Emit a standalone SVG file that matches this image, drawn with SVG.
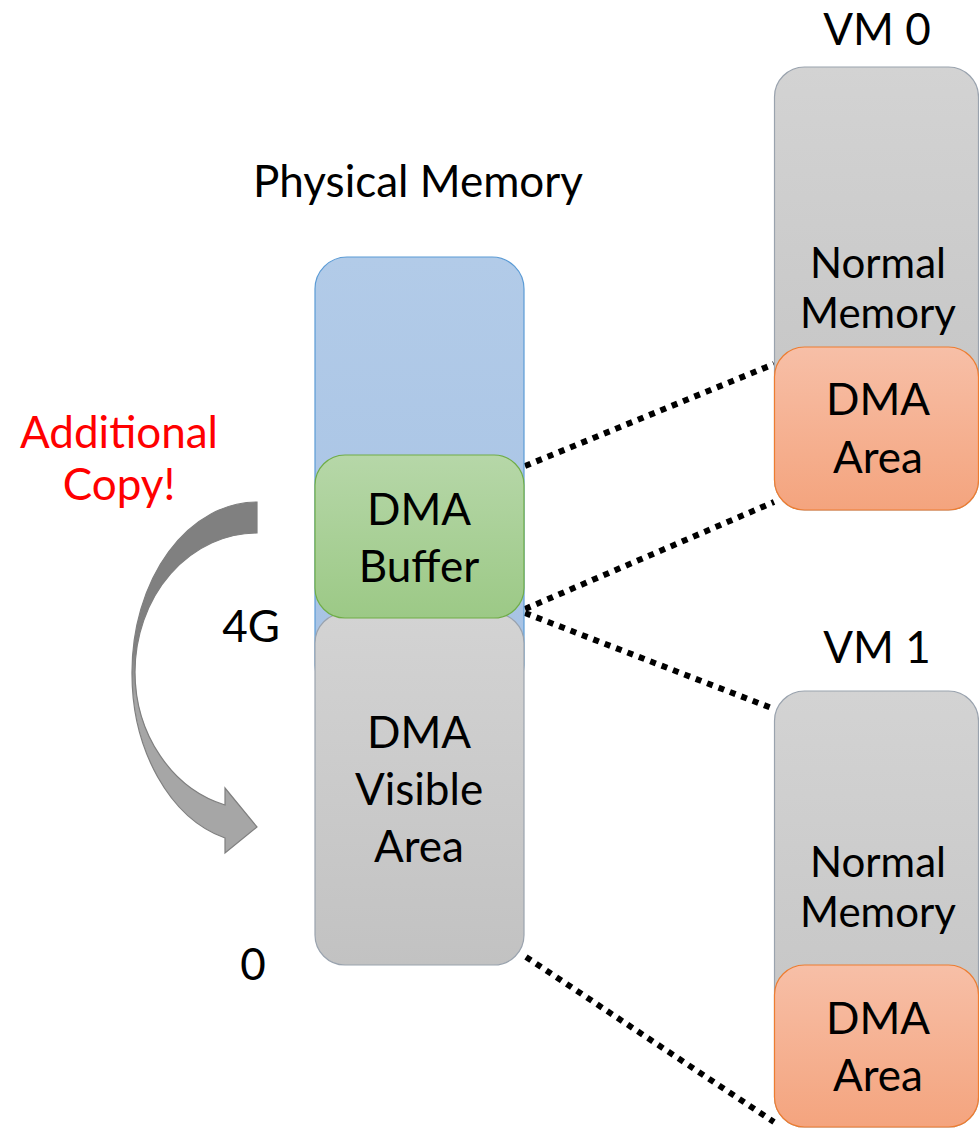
<svg xmlns="http://www.w3.org/2000/svg" width="979" height="1130" viewBox="0 0 979 1130">
  <defs>
    <linearGradient id="gBlue" x1="0" y1="0" x2="0" y2="1">
      <stop offset="0" stop-color="#B2CBE8"/>
      <stop offset="1" stop-color="#A6C2E4"/>
    </linearGradient>
    <linearGradient id="gGreen" x1="0" y1="0" x2="0" y2="1">
      <stop offset="0" stop-color="#B6D7A8"/>
      <stop offset="1" stop-color="#9CC986"/>
    </linearGradient>
    <linearGradient id="gGray" x1="0" y1="0" x2="0" y2="1">
      <stop offset="0" stop-color="#D3D3D3"/>
      <stop offset="1" stop-color="#C2C2C2"/>
    </linearGradient>
    <linearGradient id="gOrange" x1="0" y1="0" x2="0" y2="1">
      <stop offset="0" stop-color="#F7BFA7"/>
      <stop offset="1" stop-color="#F4A47E"/>
    </linearGradient>
    <linearGradient id="gArrow" x1="0" y1="0" x2="0" y2="1">
      <stop offset="0.42" stop-color="#808080"/>
      <stop offset="0.56" stop-color="#A6A6A6"/>
    </linearGradient>
    <style>
      text { font-family: Lato, "Liberation Sans", sans-serif; font-size: 44px; fill: #000; text-anchor: middle; }
      .small { font-size: 42px; }
      .red { fill: #FF0000; }
      .blue { fill: url(#gBlue); stroke: #5B9BD5; stroke-width: 1.2; }
      .green { fill: url(#gGreen); stroke: #70AD47; stroke-width: 1.2; }
      .gray { fill: url(#gGray); stroke: #9AA3AE; stroke-width: 1.2; }
      .orange { fill: url(#gOrange); stroke: #ED7D31; stroke-width: 1.2; }
      .link { fill: none; stroke: #000; stroke-width: 6; stroke-dasharray: 6 6.2; }
    </style>
  </defs>

  <rect width="979" height="1130" fill="#FFFFFF"/>

  <!-- dotted mappings between physical memory and guest memory -->
  <g id="connectors">
    <line class="link" x1="525" y1="466" x2="774" y2="364"/>
    <line class="link" x1="525" y1="609" x2="774" y2="502"/>
    <line class="link" x1="525" y1="613" x2="774" y2="709"/>
    <line class="link" x1="526" y1="957" x2="774" y2="1122"/>
  </g>

  <!-- physical memory column -->
  <g id="physical-memory">
    <text x="418" y="197">Physical Memory</text>
    <rect class="blue" x="315" y="257" width="209" height="440" rx="32"/>
  </g>

  <g id="dma-visible-area">
    <rect class="gray" x="315" y="613" width="209" height="352" rx="30"/>
    <text x="419" y="748">DMA</text>
    <text x="419" y="805">Visible</text>
    <text x="419" y="862">Area</text>
  </g>

  <g id="dma-buffer">
    <rect class="green" x="315" y="455" width="209" height="163" rx="30"/>
    <text x="419" y="525">DMA</text>
    <text x="419" y="582">Buffer</text>
  </g>

  <g id="address-labels">
    <text x="251" y="642">4G</text>
    <text x="253" y="980">0</text>
  </g>

  <!-- extra copy from high memory into the DMA-visible range -->
  <g id="additional-copy">
    <text class="red" x="119" y="448">Additional</text>
    <text class="red" x="119" y="500">Copy!</text>
    <path d="M257,502 A125,170 0 0 0 132,672 A125,170 0 0 0 225,838 L225,853 L257,827 L225,788 L225,805 A122,138 0 0 1 135,672 A122,139 0 0 1 257,533 Z" fill="url(#gArrow)" stroke="#7F7F7F" stroke-width="1.2"/>
  </g>

  <!-- guest VM 0 -->
  <g id="vm0">
    <text x="877" y="45">VM 0</text>
    <rect class="gray" x="774.5" y="67" width="204" height="443" rx="30"/>
    <text class="small" x="878" y="278">Normal</text>
    <text class="small" x="878" y="328">Memory</text>
  </g>
  <g id="vm0-dma-area">
    <rect class="orange" x="774.5" y="347" width="204" height="163" rx="30"/>
    <text x="878" y="415">DMA</text>
    <text x="878" y="473">Area</text>
  </g>

  <!-- guest VM 1 -->
  <g id="vm1">
    <text x="877" y="663">VM 1</text>
    <rect class="gray" x="774.5" y="691" width="204" height="436" rx="30"/>
    <text class="small" x="878" y="877">Normal</text>
    <text class="small" x="878" y="927">Memory</text>
  </g>
  <g id="vm1-dma-area">
    <rect class="orange" x="774.5" y="965" width="204" height="162" rx="30"/>
    <text x="878" y="1034">DMA</text>
    <text x="878" y="1091">Area</text>
  </g>
</svg>
